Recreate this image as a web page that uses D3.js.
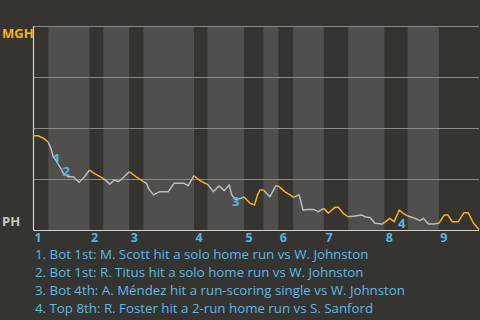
<!DOCTYPE html>
<html>
<head>
<meta charset="utf-8">
<script src="https://cdn.jsdelivr.net/npm/d3@7"></script>
<style>
  body { margin: 0; background: #363430; }
  svg { display: block; font-family: "Open Sans", sans-serif; }
</style>
</head>
<body>
<div id="chart"></div>
<script>
const innings = [1, 2, 3, 4, 5, 6, 7, 8, 9]
// start of every half inning (event units), last value closes the top of the 9th
const halfStarts = [0, 3.1, 11.4, 14.2, 19.4, 22.3, 32.5, 35.2, 42.6, 46.5, 49.5, 52.5, 58.7, 63.6, 70.9, 75.6, 81.9, 90]

const eventX = [0, 1, 2.1, 3.1, 3.6, 4.1, 4.6, 5.8, 6.1, 7.1, 8.1, 9.3, 10.4, 11.4, 12.5, 14.2, 15.5, 16.4, 17.2, 17.9,
  19.4, 20.8, 22.3, 22.9, 23.3, 24.3, 25.6, 27.3, 28.5, 30.5, 31.3, 32.5, 33.7, 34.7, 35.2, 36.4, 37.5, 38.6, 39.6, 40.1,
  40.8, 41.8, 42.6, 43.8, 44.7, 45.3, 45.8, 46.5, 47.8, 49.0, 49.5, 50.8, 52.2, 52.5, 53.7, 54.5, 55.5, 56.6, 57.6, 58.7,
  59.6, 60.9, 61.6, 62.6, 63.6, 65.0, 66.3, 67.0, 68.0, 69.0, 70.4, 70.9, 72.0, 72.9, 73.9, 74.7, 75.6, 77.1, 78.1, 78.8,
  79.8, 80.8, 81.9, 83.0, 83.7, 84.6, 85.8, 87.0, 87.8, 88.9, 90]
const mghWinProb = [.462, .462, .450, .430, .400, .359, .343, .294, .278, .261, .261, .234, .261, .294, .275, .253, .225, .245, .237, .249,
  .286, .261, .237, .229, .204, .172, .188, .188, .229, .229, .217, .266, .242, .229, .225, .188, .216, .193, .221, .172,
  .150, .154, .162, .131, .123, .172, .196, .196, .163, .216, .216, .188, .167, .160, .172, .098, .101, .101, .090, .106,
  .082, .111, .111, .082, .065, .069, .074, .065, .061, .033, .029, .036, .057, .041, .098, .082, .069, .057, .046, .057,
  .029, .029, .033, .074, .074, .041, .041, .085, .085, .033, .003]

const noteNums = ['1', '2', '3', '4']
const noteX = [4.8, 6.7, 40.9, 74.4]
const noteProb = [.351, .286, .139, .033]
const notes = [
  '1. Bot 1st: M. Scott hit a solo home run vs W. Johnston',
  '2. Bot 1st: R. Titus hit a solo home run vs W. Johnston',
  '3. Bot 4th: A. Méndez hit a run-scoring single vs W. Johnston',
  '4. Top 8th: R. Foster hit a 2-run home run vs S. Sanford'
]
const gridProb = [0.25, 0.5, 0.75, 1]

const width = 480, height = 320
const margin = { top: 26, right: 1, bottom: 90, left: 33 }
const orange = '#f9b116', grey = '#bdbdbb', blue = '#4fb6e6'

const svg = d3.select('#chart').append('svg')
  .attr('width', width)
  .attr('height', height)
  .style('background', '#363430')

const x = d3.scaleLinear().domain([0, 90]).range([margin.left, width - margin.right])
const y = d3.scaleLinear().domain([0, 1]).range([height - margin.bottom, margin.top])

// bottom halves are the lighter stripes
const halves = d3.range(halfStarts.length - 1).map(i => ({ i, x0: halfStarts[i], x1: halfStarts[i + 1] }))
svg.append('g').selectAll('rect')
  .data(halves.filter(d => d.i % 2 === 1))
  .join('rect')
  .attr('x', d => x(d.x0))
  .attr('width', d => x(d.x1) - x(d.x0))
  .attr('y', y(1))
  .attr('height', y(0) - y(1))
  .attr('fill', '#504f4d')

svg.append('g').selectAll('line')
  .data(gridProb)
  .join('line')
  .attr('x1', x(0)).attr('x2', x(90))
  .attr('y1', d => Math.round(y(d)) + 0.5).attr('y2', d => Math.round(y(d)) + 0.5)
  .attr('stroke', '#8a8985')
  .attr('stroke-width', 1)

svg.append('line')
  .attr('x1', x(0)).attr('x2', x(90))
  .attr('y1', y(0) + 0.5).attr('y2', y(0) + 0.5)
  .attr('stroke', '#cfcfcc').attr('stroke-width', 1.2)
svg.append('line')
  .attr('x1', x(0) + 0.5).attr('x2', x(0) + 0.5)
  .attr('y1', y(1)).attr('y2', y(0))
  .attr('stroke', '#cfcfcc').attr('stroke-width', 1.2)

// split the line into runs by half inning, coloured by the batting team
const pts = eventX.map((v, i) => [v, mghWinProb[i]])
const runs = []
for (let i = 0; i < pts.length - 1; i++) {
  const mid = (pts[i][0] + pts[i + 1][0]) / 2
  const h = d3.bisectRight(halfStarts, mid) - 1
  const top = h % 2 === 0
  const last = runs[runs.length - 1]
  if (last && last.top === top) last.pts.push(pts[i + 1])
  else runs.push({ top, pts: [pts[i], pts[i + 1]] })
}
const line = d3.line().x(d => x(d[0])).y(d => y(d[1]))
svg.append('g').selectAll('path')
  .data(runs)
  .join('path')
  .attr('d', d => line(d.pts))
  .attr('fill', 'none')
  .attr('stroke', d => d.top ? orange : grey)
  .attr('stroke-width', 1.5)
  .attr('stroke-linejoin', 'round')

svg.append('g').selectAll('text')
  .data(noteNums)
  .join('text')
  .attr('x', (d, i) => x(noteX[i]))
  .attr('y', (d, i) => y(noteProb[i]))
  .attr('dy', '0.36em')
  .attr('text-anchor', 'middle')
  .attr('font-size', 13)
  .attr('font-weight', 'bold')
  .attr('fill', blue)
  .text(d => d)

svg.append('g').selectAll('text')
  .data(innings)
  .join('text')
  .attr('x', (d, i) => x(halfStarts[i * 2]) + 1.5)
  .attr('y', y(0) + 11.5)
  .attr('font-size', 12.5)
  .attr('font-weight', 'bold')
  .attr('fill', blue)
  .text(d => d)

svg.append('text')
  .attr('x', 2).attr('y', 38)
  .attr('font-size', 13).attr('font-weight', 'bold')
  .attr('fill', orange)
  .text('MGH')
svg.append('text')
  .attr('x', 2).attr('y', 226)
  .attr('font-size', 13).attr('font-weight', 'bold')
  .attr('fill', '#c8c8c6')
  .text('PH')

svg.append('g').selectAll('text')
  .data(notes)
  .join('text')
  .attr('x', 35)
  .attr('y', (d, i) => 258.5 + i * 18)
  .attr('font-size', 13.3)
  .attr('fill', '#5cb9e6')
  .text(d => d)
</script>
</body>
</html>
